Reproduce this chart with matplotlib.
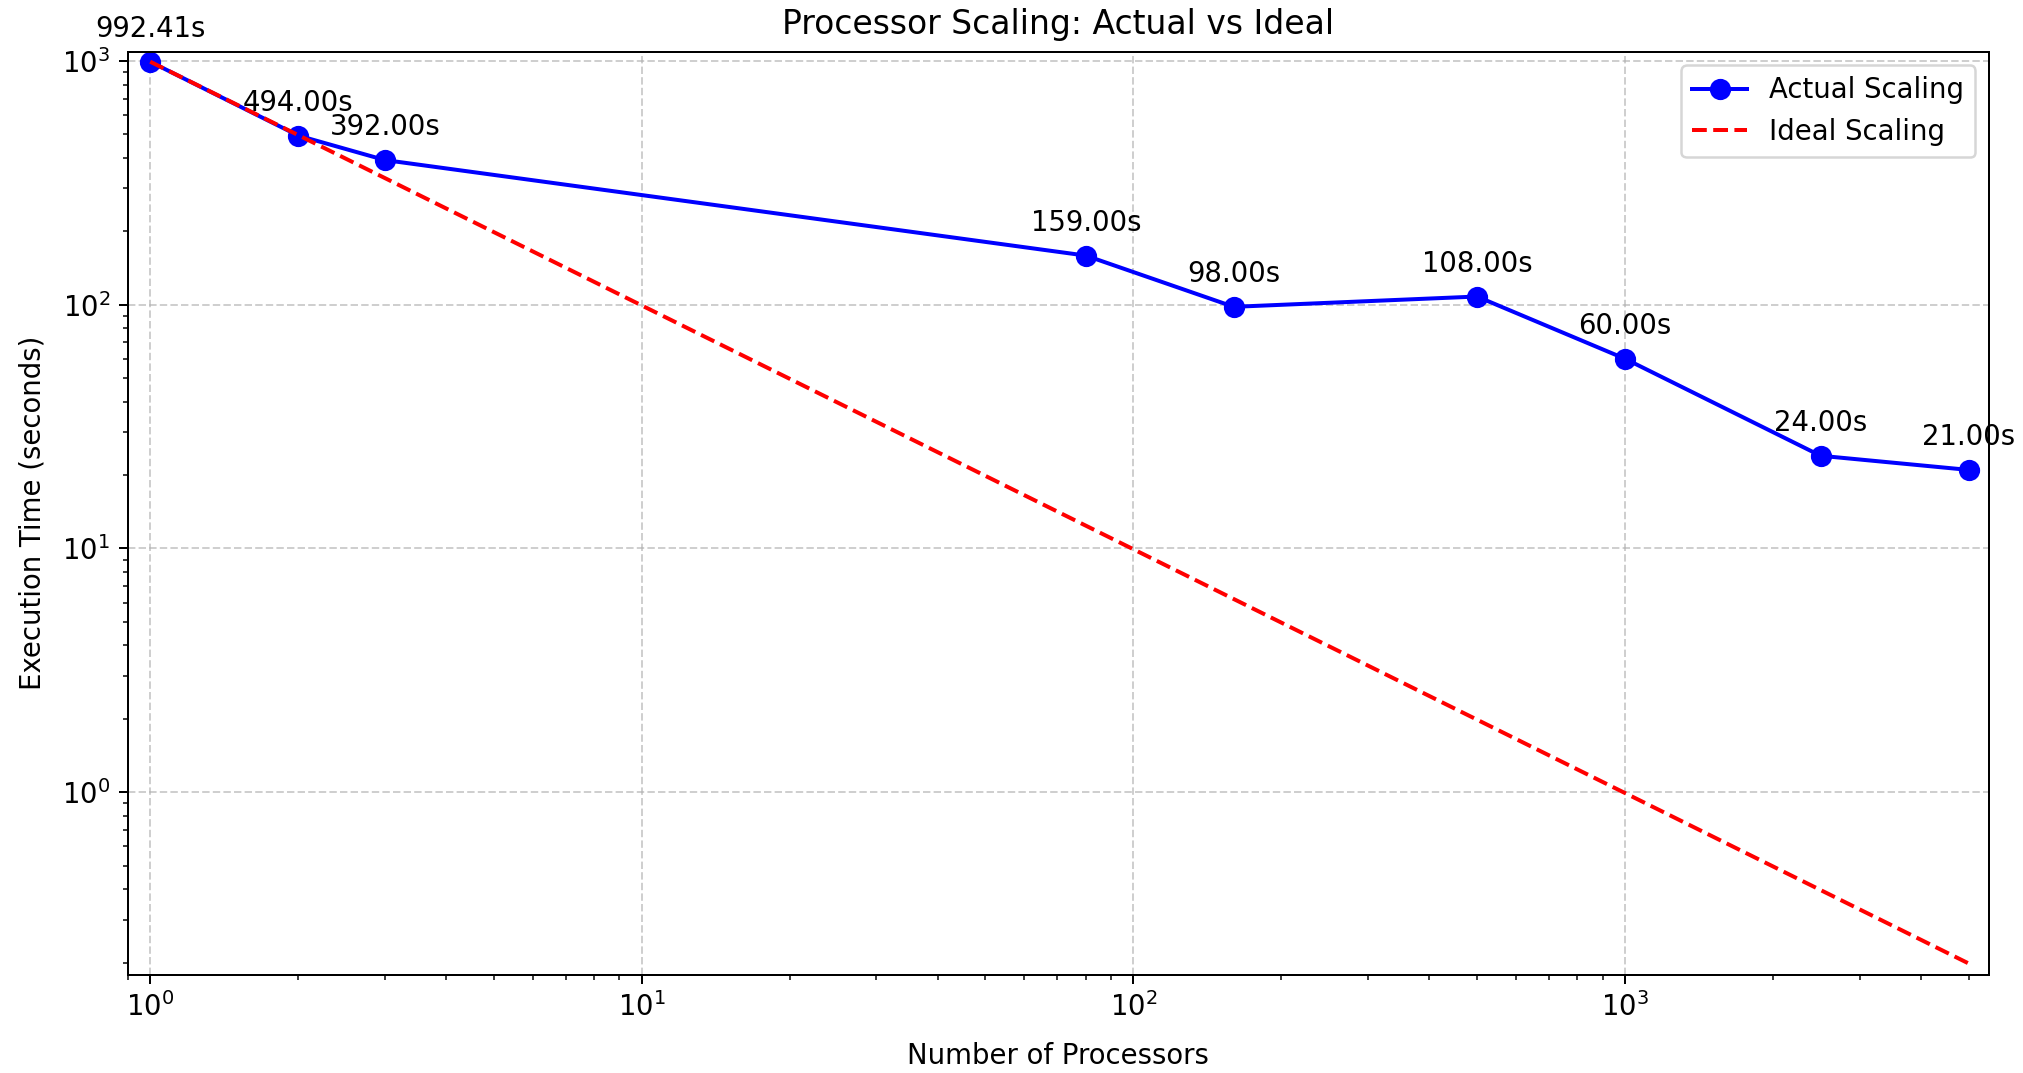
import matplotlib
matplotlib.use("Agg")
import matplotlib.pyplot as plt
import numpy as np

# processor counts and measured times
processors = [1, 2, 3, 80, 160, 500, 1000, 2500, 5000]
times = [992.41, 494.00, 392.00, 159.00, 98.00, 108.00, 60.00, 24.00, 21.00]

plt.rcParams["font.size"] = 11

procs = np.array(processors, dtype=float)
ideal = times[0] / procs

fig, ax = plt.subplots(figsize=(2024 / 180, 1073 / 180), dpi=180)
fig.subplots_adjust(left=0.0631, right=0.9827, top=0.9519, bottom=0.0917)

ax.plot(procs, times, "o-", color="blue", markersize=7.5, linewidth=1.6, label="Actual Scaling")
ax.plot(procs, ideal, "--", color="red", linewidth=1.6, label="Ideal Scaling")

for p, t in zip(processors, times):
    ax.annotate(f"{t:.2f}s", (p, t), textcoords="offset points", xytext=(0, 10), ha="center")

ax.set_xscale("log")
ax.set_yscale("log")
ax.set_xlim(procs.min() * 0.9, procs.max() * 1.1)
ax.set_ylim(ideal.min() * 0.9, max(times) * 1.1)

ax.set_title("Processor Scaling: Actual vs Ideal", pad=7)
ax.set_xlabel("Number of Processors", labelpad=8)
ax.set_ylabel("Execution Time (seconds)", labelpad=6)
ax.legend()
ax.grid(True, linestyle="--", alpha=0.6)

plt.savefig("out.png", dpi=180)
